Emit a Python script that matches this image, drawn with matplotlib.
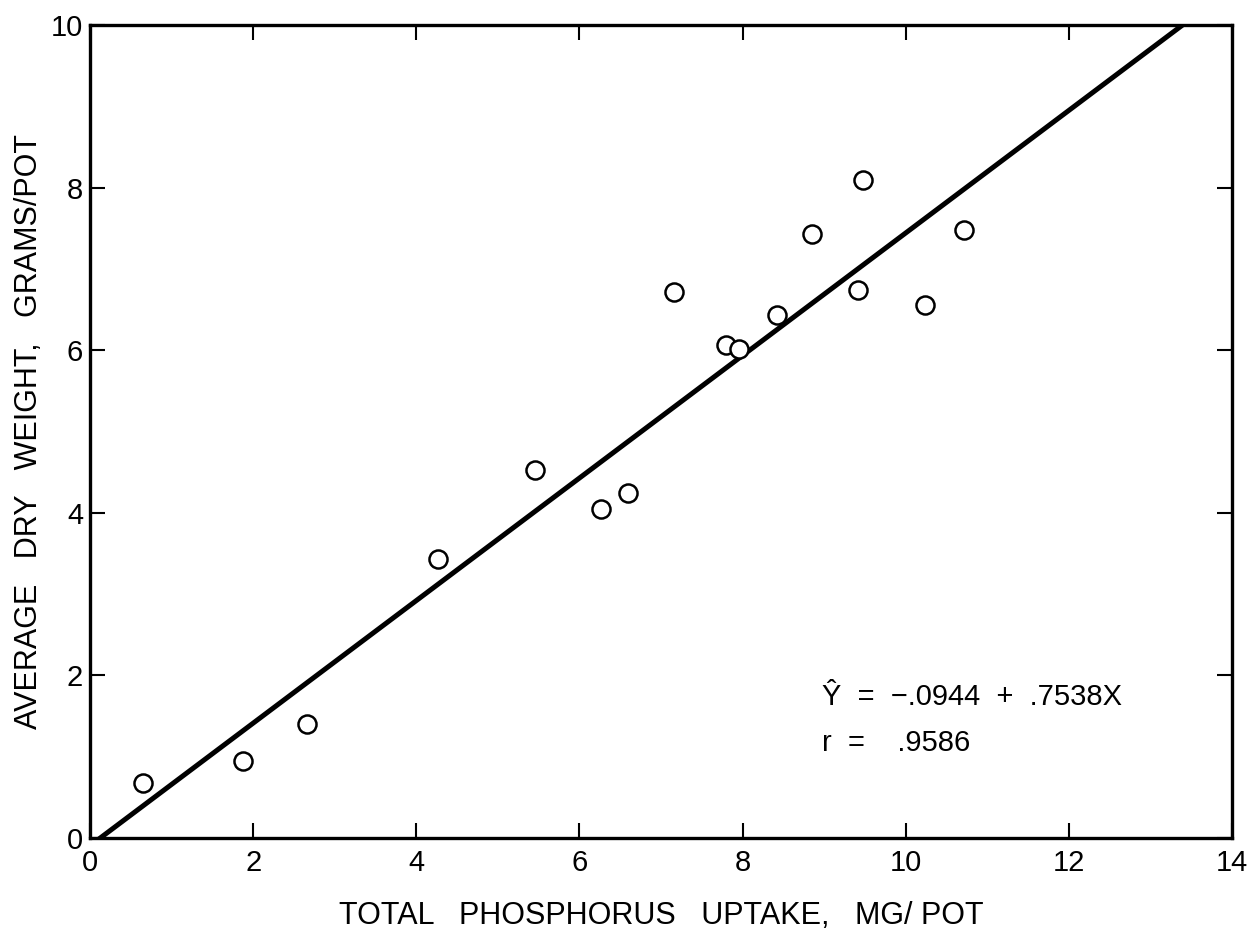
import matplotlib
matplotlib.use("Agg")
import matplotlib.pyplot as plt
import numpy as np

# datos
fosforo = [0.65, 1.87, 2.66, 4.26, 5.46, 6.27, 6.59, 7.16, 7.80, 7.96, 8.42, 8.85, 9.41, 9.48, 10.23, 10.72]
peso_seco = [0.68, 0.95, 1.40, 3.43, 4.53, 4.05, 4.24, 6.72, 6.07, 6.01, 6.44, 7.43, 6.74, 8.09, 6.56, 7.48]
intercepto = -0.0944
pendiente = 0.7538
r_valor = ".9586"
xticks = [0, 2, 4, 6, 8, 10, 12, 14]
yticks = [0, 2, 4, 6, 8, 10]

plt.rcParams['font.family'] = ['Liberation Sans', 'DejaVu Sans']

fig = plt.figure(figsize=(12.47, 9.31), dpi=100)
ax = fig.add_axes([0.0722, 0.0999, 0.9158, 0.8731])

ax.plot(fosforo, peso_seco, linestyle="none", marker="o", markersize=13,
        markerfacecolor="white", markeredgecolor="black", markeredgewidth=1.8, zorder=3)

xs = np.array([0, 14])
ax.plot(xs, intercepto + pendiente * xs, color="black", linewidth=3.6, zorder=2)

ax.set_xlim(0, 14)
ax.set_ylim(0, 10)
ax.set_xticks(xticks)
ax.set_yticks(yticks)
ax.tick_params(direction="in", length=11, width=1.5, labelsize=21,
               top=True, right=True, pad=8)
ax.tick_params(axis="y", pad=5)
for s in ax.spines.values():
    s.set_linewidth(2.4)

ax.set_xlabel("TOTAL   PHOSPHORUS   UPTAKE,   MG/ POT", fontsize=22, labelpad=17)
ax.set_ylabel("AVERAGE   DRY   WEIGHT,   GRAMS/POT", fontsize=22, labelpad=5)

ax.text(8.97, 1.73, "Ŷ  =  −.0944  +  .7538X", fontsize=21, va="center", ha="left")
ax.text(8.97, 1.17, "r  =    " + r_valor, fontsize=21, va="center", ha="left")

fig.savefig("out.png", dpi=100)
